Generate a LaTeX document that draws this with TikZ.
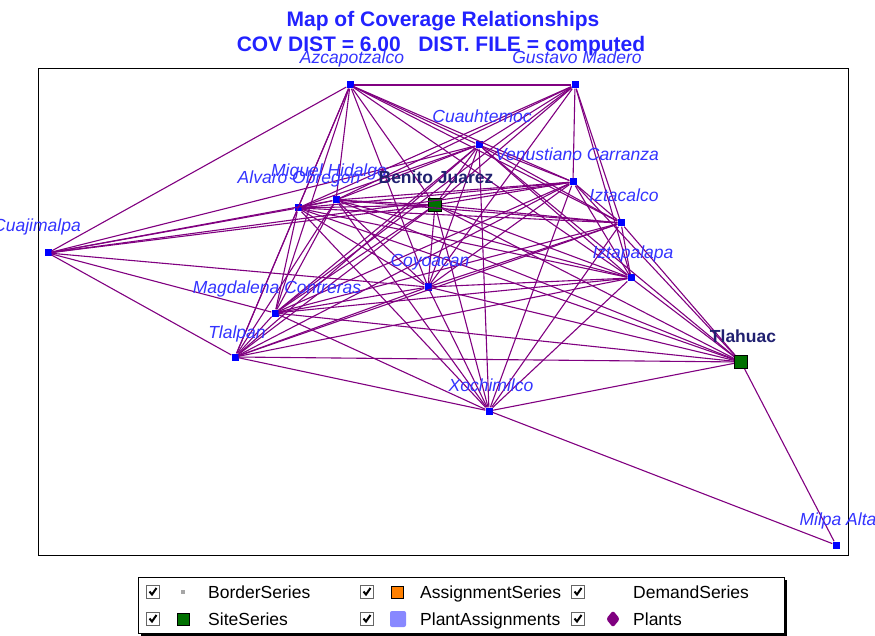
\documentclass[tikz,border=0pt]{standalone}
\usepackage{fontspec}
\setmainfont{Liberation Sans}
\usetikzlibrary{shadows}
\usetikzlibrary{shapes.geometric}
\definecolor{linkpurple}{RGB}{128,0,128}
\definecolor{townblue}{RGB}{51,51,255}
\definecolor{titleblue}{RGB}{34,34,255}
\definecolor{sitegreen}{RGB}{0,112,0}
\definecolor{sitenavy}{RGB}{32,32,112}
\definecolor{assignorange}{RGB}{255,128,0}
\definecolor{plantlav}{RGB}{136,136,255}
\tikzstyle{every node}=[font=\fontsize{17.5}{20}\selectfont]
\tikzstyle{town}=[fill=blue,minimum size=7pt,inner sep=0pt]
\tikzstyle{site}=[draw=black,fill=sitegreen,minimum size=13pt,inner sep=0pt,line width=1pt]
\tikzstyle{townlabel}=[anchor=base,inner sep=0pt,text=townblue,font=\fontsize{17.5}{20}\selectfont\itshape]
\tikzstyle{sitelabel}=[anchor=base,inner sep=0pt,text=sitenavy,font=\fontsize{17.5}{20}\selectfont\bfseries]
\tikzstyle{link}=[draw=linkpurple,line width=1.1pt]
\tikzstyle{chk}=[draw=gray!80!black,fill=white,minimum size=13pt,inner sep=0pt,line width=1.2pt,
	path picture={\draw[black,line width=2pt] ([shift={(-3.5pt,0.5pt)}]path picture bounding box.center) -- ++(2.5pt,-3pt) -- ++(4.5pt,6.5pt);}]
\tikzstyle{legtext}=[anchor=base west,inner sep=0pt]

\begin{document}
\begin{tikzpicture}[x=1pt,y=-1pt]
		\useasboundingbox (0,0) rectangle (875,636);
		
		\node[anchor=base,text=titleblue,font=\fontsize{21}{24}\selectfont\bfseries] (title1) at (443,27) {Map of Coverage Relationships};
		\node[anchor=base,text=titleblue,font=\fontsize{21}{24}\selectfont\bfseries] (title2) at (441,52) {COV DIST = 6.00\ \ \ DIST. FILE = computed};
		
		\draw[line width=1pt] (38,69) rectangle (848,555);
		
		% delegations
		\node[town] (AZ) at (350,85) {};
		\node[town] (GM) at (575,85) {};
		\node[town] (CU) at (479,145) {};
		\node[town] (VC) at (573,182) {};
		\node[town] (MH) at (336,200) {};
		\node[town] (AO) at (298,208) {};
		\node[site] (BJ) at (435,205) {};
		\node[town] (IC) at (621,223) {};
		\node[town] (CJ) at (48,253) {};
		\node[town] (IP) at (631,278) {};
		\node[town] (CO) at (428,287) {};
		\node[town] (MC) at (275,313) {};
		\node[town] (TL) at (235,357) {};
		\node[site] (TH) at (741,362) {};
		\node[town] (XO) at (489,411) {};
		\node[town] (MA) at (836,545) {};
		
		% coverage
		\foreach \s/\ts in {AZ/{GM,CU,VC,MH,AO,BJ,IC,IP,CO,MC,TL,CJ},
			GM/{CU,VC,MH,AO,BJ,IC,IP,CO,MC},
			CU/{VC,MH,AO,BJ,IC,IP,CO,MC,TL,TH,XO,CJ},
			VC/{MH,AO,BJ,IC,IP,CO,MC,TL,TH,XO,CJ},
			MH/{AO,BJ,IC,IP,CO,MC,TL,TH,XO,CJ},
			AO/{BJ,IC,IP,CO,MC,TL,TH,XO,CJ},
			BJ/{IC,IP,CO,MC,TL,TH,XO,CJ},
			IC/{IP,CO,MC,TL,TH,XO},
			IP/{CO,MC,TL,TH,XO},
			CO/{MC,TL,TH,XO,CJ},
			MC/{TL,TH,XO,CJ},
			TL/{TH,XO,CJ},
			TH/{XO,MA},
			XO/{MA}}
			\foreach \t in \ts
				\draw[link] (\s) -- (\t);
		
		\node[townlabel] (AZl) at (352,64) {Azcapotzalco};
		\node[townlabel] (GMl) at (577,64) {Gustavo Madero};
		\node[townlabel] (CUl) at (482,123) {Cuauhtemoc};
		\node[townlabel] (VCl) at (577,161) {Venustiano Carranza};
		\node[townlabel] (MHl) at (329,177) {Miguel Hidalgo};
		\node[townlabel] (AOl) at (299,184) {Alvaro Obregon};
		\node[sitelabel] (BJl) at (436,184) {Benito Juarez};
		\node[townlabel] (ICl) at (624,202) {Iztacalco};
		\node[townlabel] (CJl) at (37,232) {Cuajimalpa};
		\node[townlabel] (IPl) at (633,259) {Iztapalapa};
		\node[townlabel] (COl) at (430,267) {Coyoacan};
		\node[townlabel] (MCl) at (277,294) {Magdalena Contreras};
		\node[townlabel] (TLl) at (237,338) {Tlalpan};
		\node[sitelabel] (THl) at (743,342) {Tlahuac};
		\node[townlabel] (XOl) at (491,391) {Xochimilco};
		\node[townlabel] (MAl) at (838,525) {Milpa Alta};
		
		% legend
		\node[draw=black,fill=white,anchor=north west,minimum width=646pt,minimum height=56pt,
			drop shadow={shadow xshift=3pt,shadow yshift=-3pt,fill=black,opacity=1}] (legend) at (138,577) {};
		\foreach \n/\x/\y in {A/153/592,B/153/619,C/367/592,D/367/619,E/578/592,F/578/619}
			\node[chk] (cb\n) at (\x,\y) {};
		\node[fill=gray!70,minimum size=3.5pt,inner sep=0pt] (symBorder) at (183,592) {};
		\node[site,minimum size=12pt] (symSite) at (183,619) {};
		\node[draw=black,fill=assignorange,minimum size=12pt,inner sep=0pt,line width=1pt] (symAssign) at (397,592) {};
		\node[fill=plantlav,rounded corners=2pt,minimum size=16pt,inner sep=0pt] (symPlantAsg) at (398,619) {};
		\node[diamond,fill=linkpurple,rounded corners=2.5pt,minimum width=14pt,minimum height=17pt,inner sep=0pt] (symPlants) at (613,619) {};
		\node[legtext] (txBorder) at (208,598) {BorderSeries};
		\node[legtext] (txSite) at (208,625) {SiteSeries};
		\node[legtext] (txAssign) at (420,598) {AssignmentSeries};
		\node[legtext] (txPlantAsg) at (420,625) {PlantAssignments};
		\node[legtext] (txDemand) at (633,598) {DemandSeries};
		\node[legtext] (txPlants) at (633,625) {Plants};
		
	\end{tikzpicture}
\end{document}
